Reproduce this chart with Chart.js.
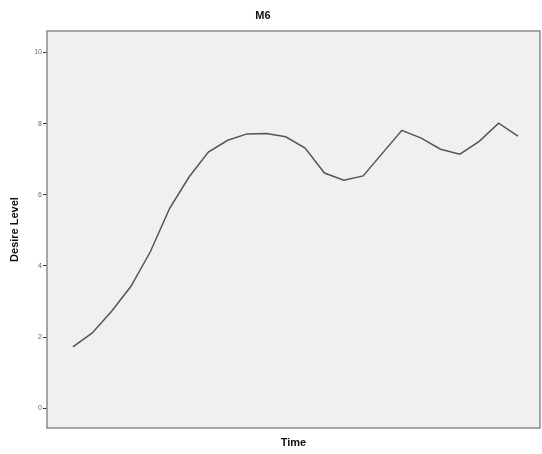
<!DOCTYPE html>
<html>
<head>
<meta charset="utf-8">
<script src="https://cdn.jsdelivr.net/npm/chart.js@4"></script>
<style>
  html, body { margin: 0; padding: 0; background: #fff; }
  #wrap { width: 542px; height: 454px; position: relative; }
</style>
</head>
<body>
<div id="wrap"><canvas id="chart"></canvas></div>
<script>
// time steps and desire level
let timeSteps = [0,1,2,3,4,5,6,7,8,9,10,11,12,13,14,15,16,17,18,19,20,21,22,23]
let desireLevel = [1.73,2.12,2.73,3.43,4.4,5.62,6.5,7.2,7.53,7.71,7.72,7.63,7.31,6.61,6.41,6.53,7.17,7.81,7.59,7.28,7.14,7.5,8.01,7.65]
let yTicks = [0,2,4,6,8,10]
let chartTitle = 'M6'
let xTitle = 'Time'
let yTitle = 'Desire Level'

let font = '"Liberation Sans", Arial, sans-serif'

const plotFrame = {
    id: 'plotFrame',
    beforeDraw(chart){
        let a = chart.chartArea, c = chart.ctx
        c.save()
        c.fillStyle = '#f0f0f0'
        c.fillRect(a.left, a.top, a.right - a.left, a.bottom - a.top)
        c.restore()
    },
    afterDraw(chart){
        let a = chart.chartArea, c = chart.ctx
        c.save()
        c.strokeStyle = '#8a8a8a'
        c.lineWidth = 1.5
        c.strokeRect(a.left, a.top, a.right - a.left, a.bottom - a.top)
        c.fillStyle = '#111'
        c.textAlign = 'center'
        c.textBaseline = 'middle'
        c.font = 'bold 11px ' + font
        c.fillText(chartTitle, 263, 16)
        c.fillText(xTitle, (a.left + a.right) / 2, 443)
        c.translate(15, (a.top + a.bottom) / 2)
        c.rotate(-Math.PI / 2)
        c.fillText(yTitle, 0, 0)
        c.restore()
    }
}

new Chart(document.getElementById('chart'), {
    type: 'line',
    data: {
        datasets: [{
            data: timeSteps.map((t, i) => ({x: t, y: desireLevel[i]})),
            borderColor: '#555',
            borderWidth: 1.5,
            pointRadius: 0,
            tension: 0,
            fill: false
        }]
    },
    options: {
        responsive: true,
        maintainAspectRatio: false,
        animation: false,
        layout: { padding: { top: 31, right: 2, left: 0, bottom: 0 } },
        plugins: { legend: { display: false }, tooltip: { enabled: false } },
        scales: {
            x: {
                type: 'linear',
                min: -1.34,
                max: 24.14,
                ticks: { display: false },
                grid: { display: false, drawTicks: false },
                border: { display: false },
                afterFit(s){ s.height = 26 }
            },
            y: {
                min: -0.55,
                max: 10.6,
                afterBuildTicks(s){ s.ticks = yTicks.map(v => ({value: v})) },
                ticks: {
                    color: '#666',
                    font: { family: font, size: 7 },
                    padding: 1
                },
                grid: { drawOnChartArea: false, tickLength: 4, color: '#333', lineWidth: 1 },
                border: { display: false },
                afterFit(s){ s.width = 47 }
            }
        }
    },
    plugins: [plotFrame]
})
</script>
</body>
</html>
